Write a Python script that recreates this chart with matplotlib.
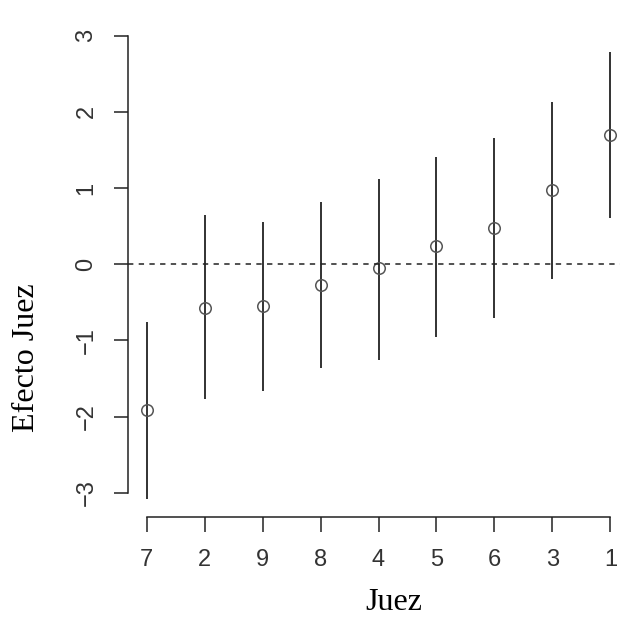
import numpy as np
import matplotlib
matplotlib.use("Agg")
from matplotlib import pyplot as plt

# judges ordered by estimated effect
juez = ['7', '2', '9', '8', '4', '5', '6', '3', '1']
efecto = [-1.91, -0.57, -0.55, -0.27, -0.05, 0.24, 0.47, 0.97, 1.70]
inf = [-3.08, -1.77, -1.66, -1.36, -1.25, -0.95, -0.70, -0.20, 0.61]
sup = [-0.76, 0.64, 0.56, 0.82, 1.12, 1.41, 1.65, 2.13, 2.79]

W, H = 620, 619
fig = plt.figure(figsize=(W / 100, H / 100), dpi=100)
# axes run past the right edge, as in the cropped original
left, right, top, bottom = 128, 629, 33.6, 517
ax = fig.add_axes([left / W, 1 - bottom / H, (right - left) / W, (bottom - top) / H])

x = np.arange(len(juez))
ax.vlines(x, inf, sup, colors='#222222', linewidth=1.3)
ax.plot(x, efecto, 'o', mfc='none', mec='#555555', ms=8.3, mew=1.1)
ax.axhline(0, color='#222222', linestyle=(0, (3.5, 3.5)), linewidth=1.1)

ax.set_xlim(-0.32, 8.32)
ax.set_ylim(-3.315, 3.025)

for s in ['top', 'right']:
    ax.spines[s].set_visible(False)
ax.spines['left'].set_bounds(-3, 3)
ax.spines['bottom'].set_bounds(0, 8)
for s in ['left', 'bottom']:
    ax.spines[s].set_color('#222222')
    ax.spines[s].set_linewidth(1.1)

ax.set_xticks(x)
ax.set_xticklabels(juez)
ax.set_yticks([-3, -2, -1, 0, 1, 2, 3])
ax.set_yticklabels(['\u22123', '\u22122', '\u22121', '0', '1', '2', '3'], rotation=90, va='center')
ax.tick_params(axis='y', length=10, width=1.1, color='#222222', pad=12,
               labelsize=17, labelcolor='#333333')
ax.tick_params(axis='x', length=10.8, width=1.1, color='#222222', pad=12,
               labelsize=17, labelcolor='#333333')
for lab in ax.get_xticklabels() + ax.get_yticklabels():
    lab.set_family('Liberation Sans')

fig.text(394 / W, 1 - 603 / H, 'Juez', family='Liberation Serif', fontsize=23,
         ha='center', va='center')
fig.text(27 / W, 1 - 358 / H, 'Efecto Juez', family='Liberation Serif', fontsize=23,
         ha='center', va='center', rotation=90)

fig.savefig('out.png', dpi=100)
